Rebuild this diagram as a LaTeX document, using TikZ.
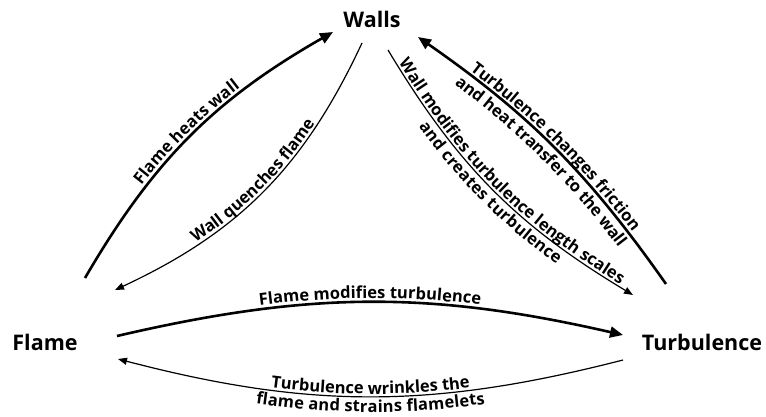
\documentclass[tikz,border=0pt]{standalone}
\usepackage{fontspec}
\setmainfont{Open Sans}
\usetikzlibrary{arrows.meta,decorations.text}
\newcommand\lblfont{\bfseries\fontsize{16.5}{16.5}\selectfont}
\tikzset{
  main/.style={font=\bfseries\fontsize{21.5}{21.5}\selectfont, inner sep=0pt, anchor=base},
  thickarr/.style={line width=2.6pt, -{Triangle[length=13pt,width=11pt]}},
  thinarr/.style={line width=1.2pt, -{Triangle[length=9pt,width=7pt]}},
  lbl/.style 2 args={decorate, decoration={text along path, text align=center, raise=#1, text={|\lblfont|#2}}}
}
\begin{document}
\begin{tikzpicture}[x=1pt,y=-1pt]
\useasboundingbox (0,0) rectangle (766,417);
\node[main] (walls) at (372,28) {Walls};
\node[main] (flame) at (45,350) {Flame};
\node[main] (turb) at (702,350) {Turbulence};
% end points
\coordinate (f1) at (85,278);  \coordinate (w1) at (333,32);
\coordinate (w2) at (362,43);  \coordinate (f2) at (115,290);
\coordinate (w3) at (388,50);  \coordinate (t3) at (633,295);
\coordinate (t4) at (666,284); \coordinate (w4) at (418,37);
\coordinate (f5) at (117,336); \coordinate (t5) at (623,335);
\coordinate (t6) at (623,360); \coordinate (f6) at (118,359);
% Flame heats wall
\draw[thickarr] (f1) to[bend left=15] (w1);
\path[lbl={4pt}{Flame heats wall}] (f1) to[bend left=15] (w1);
% Wall quenches flame
\draw[thinarr] (w2) to[bend left=20] (f2);
\path[lbl={2.5pt}{Wall quenches flame}] (f2) to[bend right=20] (w2);
% Wall modifies turbulence
\draw[thinarr] (w3) to[bend right=14] (t3);
\path[lbl={2.5pt}{Wall modifies turbulence length scales}] (w3) to[bend right=14] (t3);
\path[lbl={-16pt}{and creates turbulence}] (w3) to[bend right=14] (t3);
% Turbulence changes friction
\draw[thickarr] (t4) to[bend right=10] (w4);
\path[lbl={3.5pt}{Turbulence changes friction}] (w4) to[bend left=10] (t4);
\path[lbl={-17pt}{and heat transfer to the wall}] (w4) to[bend left=10] (t4);
% Flame modifies turbulence
\draw[thickarr] (f5) to[bend left=13] (t5);
\path[lbl={4pt}{Flame modifies turbulence}] (f5) to[bend left=13] (t5);
% Turbulence wrinkles
\draw[thinarr] (t6) to[bend left=14.5] (f6);
\path[lbl={2.5pt}{Turbulence wrinkles the}] (f6) to[bend right=14.5] (t6);
\path[lbl={-15.5pt}{flame and strains flamelets}] (f6) to[bend right=14.5] (t6);
\end{tikzpicture}
\end{document}
